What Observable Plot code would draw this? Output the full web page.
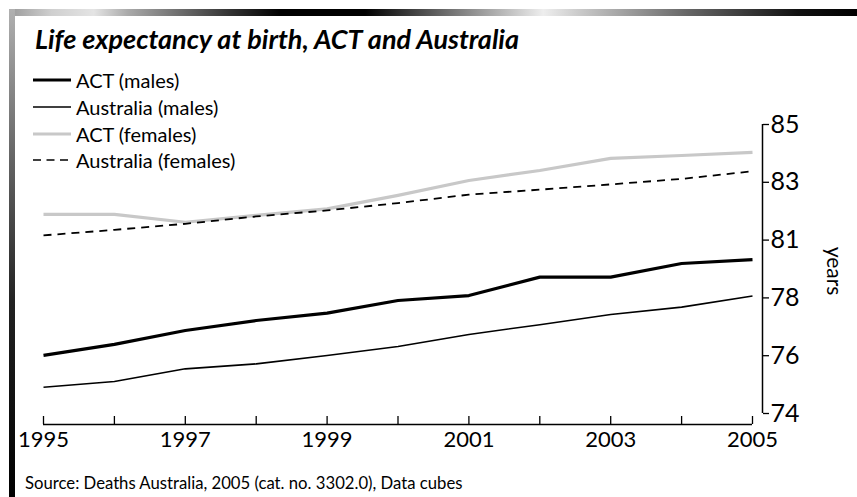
<!DOCTYPE html>
<html>
<head>
<meta charset="utf-8">
<script src="https://cdn.jsdelivr.net/npm/d3@7"></script>
<script src="https://cdn.jsdelivr.net/npm/@observablehq/plot@0.6"></script>
<style>
  html, body { margin: 0; padding: 0; background: #fff; }
  #wrap { position: relative; width: 857px; height: 497px; overflow: hidden; background: #fff; font-family: Lato, "Open Sans", sans-serif; color: #000; }
  #wrap svg.plot { position: absolute; left: 0; top: 0; }
  .topbar { position: absolute; left: 9px; top: 9px; width: 848px; height: 7px;
    background: linear-gradient(to right, #999 0%, #cfcfcf 5%, #e4e4e4 10%, #aaa 14%, #333 26%, #000 32%, #000 42%, #888 54%, #eee 63%, #ccc 67%, #666 80%, #111 93%, #000 100%); }
  .leftbar { position: absolute; left: 9px; top: 9px; width: 6px; height: 488px;
    background: linear-gradient(to bottom, #b0b0b0 0%, #666 30%, #222 60%, #000 100%); }
  .title { position: absolute; left: 35px; top: 25px; font-size: 27px; line-height: 27px; font-weight: 700; font-style: italic; white-space: nowrap; }
  .legend { position: absolute; left: 33px; top: 0; }
  .row { position: absolute; left: 0; height: 24px; display: flex; align-items: center; white-space: nowrap; font-size: 20px; }
  .row svg { margin-right: 5px; }
  .caption { position: absolute; left: 25px; top: 471px; font-size: 16.7px; line-height: 24px; white-space: nowrap; }
</style>
</head>
<body>
<div id="wrap"></div>
<script>
// ---- data ----
const years = [1995, 1996, 1997, 1998, 1999, 2000, 2001, 2002, 2003, 2004, 2005];
const actMales     = [76.21, 76.63, 77.16, 77.54, 77.82, 78.30, 78.49, 79.19, 79.19, 79.71, 79.86];
const ausMales     = [75.00, 75.22, 75.70, 75.89, 76.21, 76.55, 77.01, 77.38, 77.77, 78.05, 78.47];
const actFemales   = [81.58, 81.58, 81.28, 81.54, 81.79, 82.30, 82.87, 83.25, 83.71, 83.82, 83.94];
const ausFemales   = [80.78, 80.99, 81.22, 81.50, 81.73, 82.01, 82.33, 82.52, 82.72, 82.93, 83.22];
const seriesNames  = ["ACT (males)", "Australia (males)", "ACT (females)", "Australia (females)"];
const xTickLabelYears = [1995, 1997, 1999, 2001, 2003, 2005];
const yTicks       = [74, 76.2, 78.4, 80.6, 82.8, 85];
const yTickLabels  = ["74", "76", "78", "81", "83", "85"];
const titleText    = "Life expectancy at birth, ACT and Australia";
const yLabelText   = "years";
const captionText  = "Source: Deaths Australia, 2005 (cat. no. 3302.0), Data cubes";

// ---- styles per series ----
const seriesStyle = [
  {stroke: "#000", strokeWidth: 3.2, dash: null},
  {stroke: "#000", strokeWidth: 1.6, dash: null},
  {stroke: "#c8c8c8", strokeWidth: 3.2, dash: null},
  {stroke: "#000", strokeWidth: 1.8, dash: "8,6"}
];
const seriesValues = [actMales, ausMales, actFemales, ausFemales];
const table = seriesValues.map((vals, s) => years.map((yr, i) => ({year: yr, value: vals[i], series: seriesNames[s]})));

const drawOrder = [2, 3, 1, 0];
const lineMarks = drawOrder.map(s => Plot.line(table[s], {
  x: "year", y: "value",
  stroke: seriesStyle[s].stroke,
  strokeWidth: seriesStyle[s].strokeWidth,
  strokeDasharray: seriesStyle[s].dash,
  strokeLinejoin: "round", strokeLinecap: "butt"
}));

const chart = Plot.plot({
  width: 857, height: 497,
  marginTop: 124, marginBottom: 84, marginLeft: 43, marginRight: 105,
  style: {background: "transparent", fontFamily: "Lato, 'Open Sans', sans-serif", color: "#000"},
  x: {domain: [1995, 2005]},
  y: {domain: [74, 85]},
  marks: [
    Plot.ruleY([74], {dy: 11, stroke: "#000", strokeWidth: 1.5}),
    Plot.axisX({ticks: years, tickSize: 8, dy: 3, fill: "none", stroke: "#000", strokeWidth: 1.3, label: null}),
    Plot.axisX({ticks: xTickLabelYears, tickSize: 0, tickPadding: 18, tickFormat: d3.format("d"), fontSize: 22, stroke: "none", fill: "#000", label: null}),
    Plot.ruleX([2005], {dx: 10, stroke: "#000", strokeWidth: 1.5}),
    Plot.axisY({anchor: "right", ticks: yTicks, tickSize: 6, dx: 10, tickPadding: 2, fontSize: 25,
      tickFormat: (d, i) => yTickLabels[i], stroke: "#000", strokeWidth: 1.3, label: null}),
    Plot.text([yLabelText], {frameAnchor: "right", dx: 81, dy: 2, rotate: 90, textAnchor: "middle", fontSize: 21, fill: "#000"}),
    ...lineMarks
  ]
});
chart.classList.add("plot");

const wrapEl = document.getElementById("wrap");
wrapEl.appendChild(chart);

const topBarEl = document.createElement("div"); topBarEl.className = "topbar"; wrapEl.appendChild(topBarEl);
const leftBarEl = document.createElement("div"); leftBarEl.className = "leftbar"; wrapEl.appendChild(leftBarEl);

const titleEl = document.createElement("div"); titleEl.className = "title"; titleEl.textContent = titleText; wrapEl.appendChild(titleEl);

const legendRowsY = [80, 107, 134, 160];
const legendEl = document.createElement("div"); legendEl.className = "legend"; wrapEl.appendChild(legendEl);
seriesNames.forEach((name, s) => {
  const row = document.createElement("div");
  row.className = "row";
  row.style.top = (legendRowsY[s] - 12) + "px";
  const st = seriesStyle[s];
  row.innerHTML = `<svg width="38" height="10"><line x1="0" x2="38" y1="5" y2="5" stroke="${st.stroke}" stroke-width="${st.strokeWidth * 0.9}" ${st.dash ? `stroke-dasharray="8,5.5"` : ""}/></svg><span>${name}</span>`;
  legendEl.appendChild(row);
});

const captionEl = document.createElement("div"); captionEl.className = "caption"; captionEl.textContent = captionText; wrapEl.appendChild(captionEl);
</script>
</body>
</html>
